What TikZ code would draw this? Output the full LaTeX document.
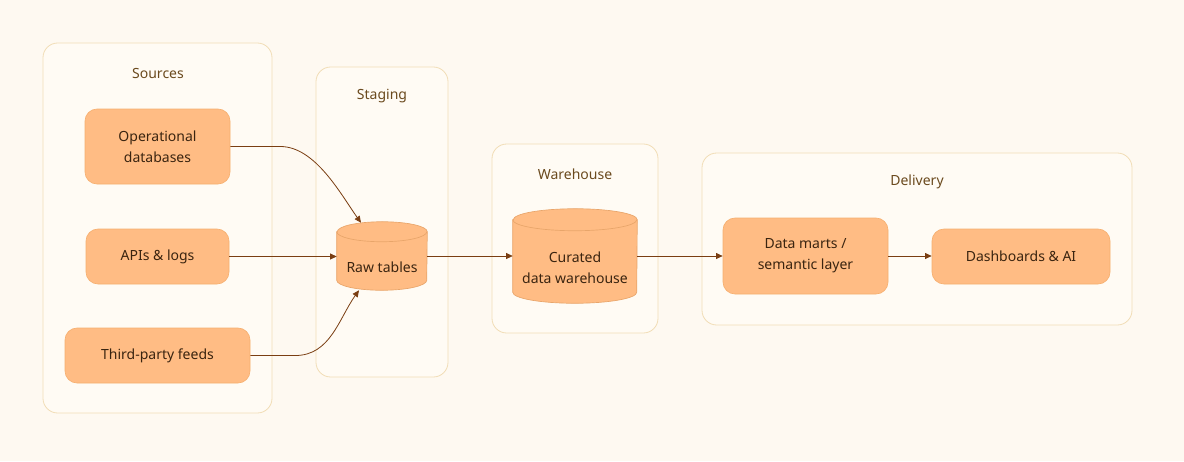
\documentclass[tikz,border=0pt]{standalone}
\usepackage{fontspec}
\setmainfont{Noto Sans}
\usetikzlibrary{arrows.meta,calc}
\definecolor{bgc}{HTML}{FEF9F1}
\definecolor{grpfill}{HTML}{FFFBF4}
\definecolor{grpline}{HTML}{F1DDB6}
\definecolor{boxfill}{HTML}{FFBC84}
\definecolor{boxline}{HTML}{F6B070}
\definecolor{cylline}{HTML}{E8A56A}
\definecolor{txt}{HTML}{3A2410}
\definecolor{ttl}{HTML}{6B4A1E}
\definecolor{arrc}{HTML}{7A3E12}
\tikzset{
  grp/.style={draw=grpline, fill=grpfill, line width=0.6pt, rounded corners=11pt, inner sep=0pt},
  ttlnode/.style={text=ttl, font=\fontsize{10.5}{13}\selectfont, inner sep=0pt},
  box/.style={draw=boxline, fill=boxfill, line width=0.5pt, rounded corners=9pt, text=txt,
    font=\fontsize{10.5}{15.5}\selectfont, align=center, inner sep=0pt},
  cylshape/.style={inner sep=0pt},
  cyltext/.style={text=txt, font=\fontsize{10.5}{15.5}\selectfont, align=center, inner sep=0pt},
  cylsty/.style={draw=cylline, fill=boxfill, line width=0.5pt},
  seam/.style={draw=cylline, line width=0.5pt},
  arr/.style={draw=arrc, line width=0.6pt, -{Triangle[length=5pt,width=4.5pt]}}
}
\newcommand\drawcyl[3]{%
  \path[cylsty] ($(#1.north west)+(0,#3)$) -- ($(#1.south west)+(0,-#3)$)
    arc[start angle=180, end angle=0, x radius=#2, y radius=#3]
    -- ($(#1.north east)+(0,#3)$)
    arc[start angle=0, end angle=-180, x radius=#2, y radius=#3] -- cycle;
  \path[seam] ($(#1.north west)+(0,#3)$) arc[start angle=180, end angle=0, x radius=#2, y radius=#3];
}
\begin{document}
\begin{tikzpicture}[x=0.75pt,y=-0.75pt]
\fill[bgc] (0,0) rectangle (1184,461);
\useasboundingbox (0,0) rectangle (1184,461);
% groups
\node[grp, minimum width=171.75pt, minimum height=277.5pt] (gsrc) at (157.5,228) {};
\node[grp, minimum width=99pt, minimum height=232.5pt] (gstg) at (382,222) {};
\node[grp, minimum width=124.5pt, minimum height=141.75pt] (gwh) at (575,238.5) {};
\node[grp, minimum width=322.5pt, minimum height=129pt] (gdel) at (917,239) {};
\node[ttlnode] (tsrc) at (158,73) {Sources};
\node[ttlnode] (tstg) at (382,96) {Staging};
\node[ttlnode] (twh) at (575,174) {Warehouse};
\node[ttlnode] (tdel) at (917,182) {Delivery};
% boxes
\node[box, minimum width=108.75pt, minimum height=56.25pt] (op) at (157.5,146.5) {Operational\\databases};
\node[box, minimum width=107.25pt, minimum height=41.25pt] (api) at (157.5,256.5) {APIs \& logs};
\node[box, minimum width=138.75pt, minimum height=41.25pt] (third) at (157.5,355.5) {Third-party feeds};
\node[box, minimum width=123.75pt, minimum height=57pt] (mart) at (805.5,256) {Data marts /\\semantic layer};
\node[box, minimum width=133.5pt, minimum height=41.25pt] (dash) at (1021,256.5) {Dashboards \& AI};
% cylinders
\node[cylshape, minimum width=67.5pt, minimum height=51pt] (raw) at (382,256) {};
\drawcyl{raw}{45}{10}
\node[cyltext] (rawt) at (382,267.5) {Raw tables};
\node[cylshape, minimum width=93pt, minimum height=70.5pt] (cur) at (575,256) {};
\drawcyl{cur}{62}{11}
\node[cyltext] (curt) at (575,268) {Curated\\data warehouse};
% connectors
\coordinate (rawtop) at ($(raw.north)+(-21,1)$);
\coordinate (rawbot) at ($(raw.south)+(-23,0)$);
\draw[arr] (op.east) -- ++(50,0) .. controls +(35,0) and +(-20,-28) .. (rawtop);
\draw[arr] (third.east) -- ++(45,0) .. controls +(35,0) and +(-20,28) .. (rawbot);
\draw[arr] (api.east) -- (api.east -| raw.west);
\draw[arr] (raw.east) -- (raw.east -| cur.west);
\draw[arr] (cur.east) -- (cur.east -| mart.west);
\draw[arr] (mart.east) -- (mart.east -| dash.west);
\end{tikzpicture}
\end{document}
